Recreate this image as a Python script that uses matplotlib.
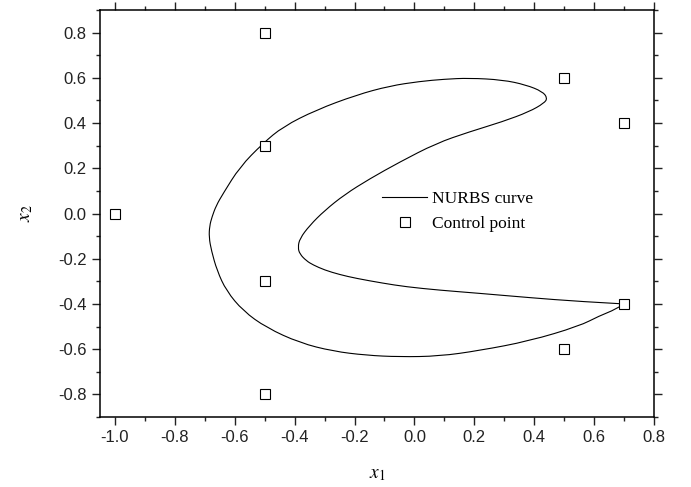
import matplotlib
matplotlib.use('Agg')
import matplotlib.pyplot as plt
from matplotlib.path import Path
from matplotlib.patches import PathPatch
from matplotlib.ticker import MultipleLocator, FormatStrFormatter

plt.rcParams['font.family'] = 'Liberation Sans'
plt.rcParams['mathtext.fontset'] = 'stix'

# control points of the NURBS curve
ctrl_x = [-1.0, -0.5, -0.5, -0.5, -0.5, 0.5, 0.7, 0.7, 0.5]
ctrl_y = [0.0, 0.8, 0.3, -0.3, -0.8, 0.6, 0.4, -0.4, -0.6]

# curve points (start/end at (0.7, -0.4))
curve_x = [0.700, 0.672, 0.617, 0.550, 0.383, 0.217, 0.083, -0.050, -0.161,
           -0.272, -0.383, -0.494, -0.572, -0.628, -0.659, -0.678, -0.686,
           -0.684, -0.676, -0.662, -0.639, -0.583, -0.506, -0.439, -0.328,
           -0.194, -0.083, 0.017, 0.100, 0.183, 0.294, 0.372, 0.428, 0.444,
           0.433, 0.383, 0.294, 0.183, 0.072, -0.050, -0.150, -0.233,
           -0.300, -0.350, -0.383, -0.389, -0.383, -0.361, -0.339, -0.300,
           -0.250, -0.194, -0.106, -0.028, 0.083, 0.217, 0.383, 0.550, 0.700]
curve_y = [-0.400, -0.424, -0.453, -0.498, -0.564, -0.606, -0.631, -0.634,
           -0.627, -0.609, -0.572, -0.505, -0.431, -0.342, -0.253, -0.164,
           -0.105, -0.055, -0.015, 0.035, 0.088, 0.206, 0.310, 0.384, 0.458,
           0.524, 0.564, 0.584, 0.594, 0.599, 0.591, 0.569, 0.539, 0.510,
           0.488, 0.450, 0.406, 0.361, 0.310, 0.227, 0.153, 0.084, 0.013,
           -0.053, -0.111, -0.150, -0.179, -0.209, -0.227, -0.250, -0.270,
           -0.287, -0.308, -0.324, -0.339, -0.353, -0.372, -0.389, -0.400]


def smooth_path(xs, ys):
    # quadratic bezier through the read points so the line is not jagged
    pts = list(zip(xs, ys))
    verts = [pts[0]]
    codes = [Path.MOVETO]
    n = len(pts)
    for i in range(1, n - 1):
        if i < n - 2:
            end = ((pts[i][0] + pts[i + 1][0]) / 2, (pts[i][1] + pts[i + 1][1]) / 2)
        else:
            end = pts[n - 1]
        verts += [pts[i], end]
        codes += [Path.CURVE3, Path.CURVE3]
    return Path(verts, codes)


fig = plt.figure(figsize=(6.91, 4.87), dpi=100)
ax = fig.add_axes([0.1447, 0.1437, 0.8018, 0.8358])

ax.add_patch(PathPatch(smooth_path(curve_x, curve_y), fill=False,
                       edgecolor='black', lw=0.8))
ax.plot([], [], color='black', lw=0.8, label='NURBS curve')
ax.plot(ctrl_x, ctrl_y, ls='none', marker='s', ms=6.5, mfc='white',
        mec='black', mew=0.8, label='Control point')

ax.set_xlim(-1.05, 0.8)
ax.set_ylim(-0.9, 0.9)
ax.xaxis.set_major_locator(MultipleLocator(0.2))
ax.xaxis.set_minor_locator(MultipleLocator(0.1))
ax.yaxis.set_major_locator(MultipleLocator(0.2))
ax.yaxis.set_minor_locator(MultipleLocator(0.1))
ax.xaxis.set_major_formatter(FormatStrFormatter('%.1f'))
ax.yaxis.set_major_formatter(FormatStrFormatter('%.1f'))

ax.tick_params(which='both', direction='out', top=True, right=True,
               width=1.0, labelsize=12, colors='#222222')
ax.tick_params(which='major', length=6)
ax.tick_params(which='minor', length=3)
for s in ax.spines.values():
    s.set_linewidth(1.1)

ax.set_xlabel(r'$x_1$', fontsize=14, labelpad=15)
ax.set_ylabel(r'$x_2$', fontsize=14, labelpad=17)

ax.legend(loc='center left', bbox_to_anchor=(0.509, 0.505), frameon=False,
          prop={'family': 'Liberation Serif', 'size': 12.5},
          handlelength=2.6, handletextpad=0.3, borderpad=0,
          borderaxespad=0, labelspacing=0.5)

fig.savefig('out.png', dpi=100)
